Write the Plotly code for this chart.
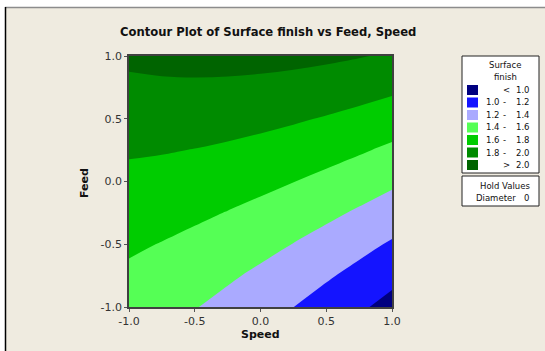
import plotly.graph_objects as go

# ---- data ----
speed = [-1.0, -0.75, -0.5, -0.25, 0.0, 0.25, 0.5, 0.75, 1.0]
feed = [-1.0, -0.75, -0.5, -0.25, 0.0, 0.25, 0.5, 0.75, 1.0]
# surface finish, rows = feed (bottom to top), columns = speed (left to right)
surface_finish = [
    [1.5125, 1.4635, 1.4079, 1.3456, 1.2767, 1.2012, 1.1189, 1.0303, 0.9349],
    [1.5681, 1.5272, 1.4797, 1.4255, 1.3647, 1.2973, 1.2231, 1.1426, 1.0553],
    [1.6265, 1.5937, 1.5543, 1.5082, 1.4555, 1.3962, 1.3301, 1.2576, 1.1784],
    [1.6880, 1.6633, 1.6319, 1.5939, 1.5493, 1.4981, 1.4401, 1.3757, 1.3046],
    [1.7522, 1.7356, 1.7123, 1.6824, 1.6459, 1.6028, 1.5529, 1.4966, 1.4336],
    [1.8194, 1.8109, 1.7957, 1.7739, 1.7455, 1.7105, 1.6687, 1.6205, 1.5656],
    [1.8895, 1.8891, 1.8819, 1.8682, 1.8479, 1.8210, 1.7873, 1.7472, 1.7004],
    [1.9625, 1.9702, 1.9711, 1.9655, 1.9533, 1.9345, 1.9089, 1.8768, 1.8381],
    [2.0383, 2.0541, 2.0631, 2.0656, 2.0615, 2.0508, 2.0333, 2.0093, 1.9787],
]
levels = [1.0, 1.2, 1.4, 1.6, 1.8, 2.0]
band_colors = ["#000080", "#1414FF", "#AAAAFF", "#55FF55", "#00CC00", "#008B00", "#006400"]
ticks = [-1.0, -0.5, 0.0, 0.5, 1.0]
tick_text = ["-1.0", "-0.5", "0.0", "0.5", "1.0"]
hold_name, hold_value = "Diameter", "0"

W, H = 545, 351
L, R, T, B = 129, 392, 56, 307
BG = "#EFEBE0"
FONT = "DejaVu Sans"


def px(x):
    return (x - L) / (R - L)


def py(y):
    return (B - y) / (B - T)


step = levels[1] - levels[0]
n = len(band_colors)
colorscale = [[i / (n - 1), c] for i, c in enumerate(band_colors)]

fig = go.Figure(go.Contour(
    x=speed, y=feed, z=surface_finish,
    contours=dict(start=levels[0], end=levels[-1], size=step, coloring="fill"),
    colorscale=colorscale, showscale=False,
    line=dict(width=0), hoverinfo="skip",
))

axis_common = dict(
    range=[-1, 1], tickvals=ticks, ticktext=tick_text, ticks="outside", ticklen=3,
    tickcolor="#555555", showline=True, linecolor="#404040", linewidth=1.5, mirror=True,
    showgrid=False, zeroline=False, tickfont=dict(family=FONT, size=11, color="#333333"),
)
fig.update_layout(
    width=W, height=H, margin=dict(l=L, r=W - R, t=T, b=H - B),
    paper_bgcolor=BG, plot_bgcolor=BG, showlegend=False,
    xaxis=dict(**axis_common),
    yaxis=dict(**axis_common),
)

shapes = []
# outer window frame
shapes.append(dict(type="rect", xref="paper", yref="paper", x0=px(0), x1=px(W), y0=py(0), y1=py(7),
                   fillcolor="white", line=dict(width=0), layer="below"))
shapes.append(dict(type="rect", xref="paper", yref="paper", x0=px(0), x1=px(5), y0=py(7), y1=py(H),
                   fillcolor="white", line=dict(width=0), layer="below"))
shapes.append(dict(type="line", xref="paper", yref="paper", x0=px(5), x1=px(W), y0=py(7.5), y1=py(7.5),
                   line=dict(color="#8C8C8C", width=1.5)))
shapes.append(dict(type="line", xref="paper", yref="paper", x0=px(5.5), x1=px(5.5), y0=py(7), y1=py(H),
                   line=dict(color="#000000", width=1.5)))
# legend boxes
shapes.append(dict(type="rect", xref="paper", yref="paper", x0=px(462), x1=px(539), y0=py(56), y1=py(173),
                   fillcolor="white", line=dict(color="#222222", width=1)))
shapes.append(dict(type="rect", xref="paper", yref="paper", x0=px(462), x1=px(539), y0=py(176), y1=py(206),
                   fillcolor="white", line=dict(color="#222222", width=1)))

ann = []
ann.append(dict(text="<b>Contour Plot of Surface finish vs Feed, Speed</b>", x=px(268), y=py(32),
                xref="paper", yref="paper", showarrow=False, xanchor="center", yanchor="middle",
                font=dict(family=FONT, size=11.6, color="#111111")))
ann.append(dict(text="<b>Speed</b>", x=px(260), y=py(334), xref="paper", yref="paper", showarrow=False,
                xanchor="center", yanchor="middle", font=dict(family=FONT, size=11, color="#111111")))
ann.append(dict(text="<b>Feed</b>", x=px(84), y=py(183), xref="paper", yref="paper", showarrow=False,
                xanchor="center", yanchor="middle", textangle=-90,
                font=dict(family=FONT, size=11, color="#111111")))

lf = dict(family=FONT, size=8.5, color="#111111")
ann.append(dict(text="Surface", x=px(505), y=py(65), xref="paper", yref="paper", showarrow=False,
                xanchor="center", yanchor="middle", font=lf))
ann.append(dict(text="finish", x=px(505), y=py(77), xref="paper", yref="paper", showarrow=False,
                xanchor="center", yanchor="middle", font=lf))
for i, c in enumerate(band_colors):
    yc = 90 + i * 12.5
    shapes.append(dict(type="rect", xref="paper", yref="paper", x0=px(467), x1=px(478),
                       y0=py(yc - 5), y1=py(yc + 5), fillcolor=c, line=dict(width=0)))
    if i == 0:
        parts = [("<", 506, "center"), (f"{levels[0]:.1f}", 532, "right")]
    elif i == n - 1:
        parts = [(">", 506, "center"), (f"{levels[-1]:.1f}", 532, "right")]
    else:
        parts = [(f"{levels[i-1]:.1f}", 484, "left"), ("-", 504, "center"),
                 (f"{levels[i]:.1f}", 532, "right")]
    for t, xx, anc in parts:
        ann.append(dict(text=t, x=px(xx), y=py(yc), xref="paper", yref="paper", showarrow=False,
                        xanchor=anc, yanchor="middle", font=lf))

ann.append(dict(text="Hold Values", x=px(505), y=py(186), xref="paper", yref="paper", showarrow=False,
                xanchor="center", yanchor="middle", font=lf))
ann.append(dict(text=hold_name, x=px(474), y=py(198), xref="paper", yref="paper", showarrow=False,
                xanchor="left", yanchor="middle", font=lf))
ann.append(dict(text=hold_value, x=px(526), y=py(198), xref="paper", yref="paper", showarrow=False,
                xanchor="center", yanchor="middle", font=lf))

fig.update_layout(shapes=shapes, annotations=ann)
fig.write_html("out.html")
